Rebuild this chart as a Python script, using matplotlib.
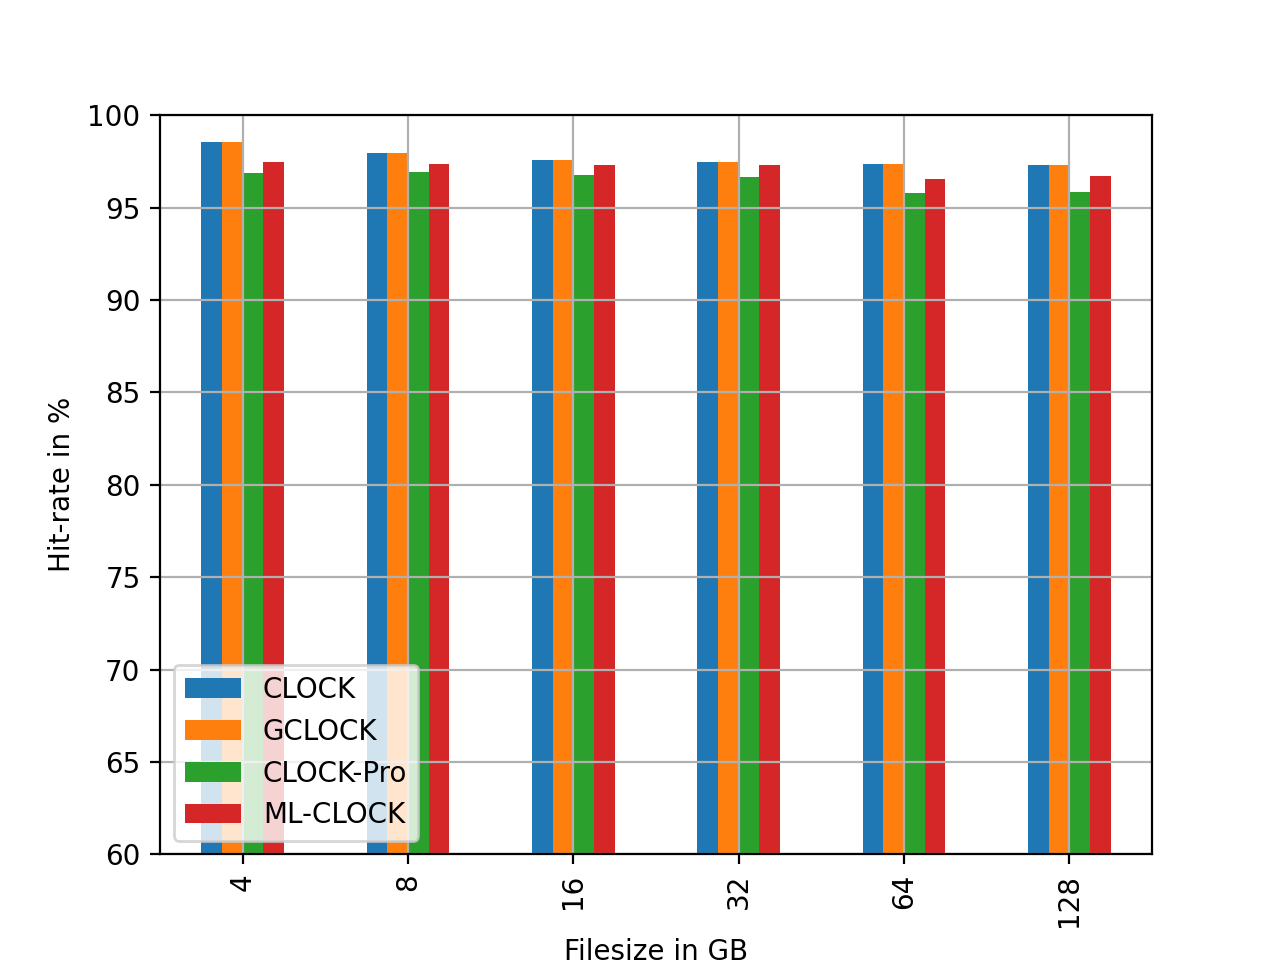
import matplotlib
matplotlib.use("Agg")
import matplotlib.pyplot as plt
import pandas as pd

filesizes = ["4", "8", "16", "32", "64", "128"]
clock = [98.55, 97.95, 97.6, 97.45, 97.35, 97.3]
gclock = [98.55, 97.95, 97.6, 97.45, 97.35, 97.3]
clock_pro = [96.85, 96.95, 96.75, 96.65, 95.8, 95.85]
ml_clock = [97.45, 97.35, 97.3, 97.3, 96.55, 96.7]

df = pd.DataFrame({
    "CLOCK": clock,
    "GCLOCK": gclock,
    "CLOCK-Pro": clock_pro,
    "ML-CLOCK": ml_clock,
}, index=filesizes)

fig, ax = plt.subplots(figsize=(6.4, 4.8))
df.plot.bar(ax=ax, grid=True)
ax.set_ylim(60, 100)
ax.set_xlabel("Filesize in GB")
ax.set_ylabel("Hit-rate in %")
ax.legend(loc="lower left")
plt.savefig("out.png", dpi=200)
